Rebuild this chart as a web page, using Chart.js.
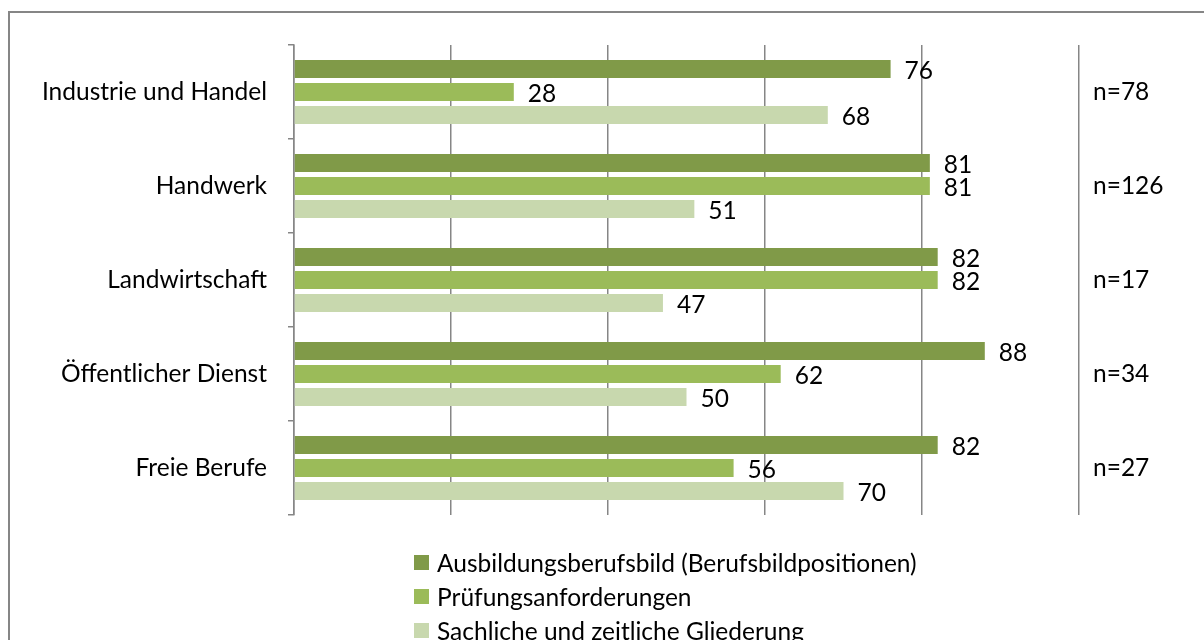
<!DOCTYPE html>
<html>
<head>
<meta charset="utf-8">
<script src="https://cdn.jsdelivr.net/npm/chart.js@4"></script>
<style>
    body { margin: 0; background: #fff; }
    #wrap { position: relative; width: 1204px; height: 640px; overflow: hidden; }
    #frame { position: absolute; left: 8px; top: 11px; right: -10px; bottom: -10px;
             border-left: 2px solid #868686; border-top: 2px solid #868686; }
    #legend { position: absolute; left: 414px; top: 545px; font-family: Lato, sans-serif;
              font-size: 24.5px; color: #000; }
    #legend div { display: flex; align-items: center; height: 34px; }
    #legend span.box { display: inline-block; width: 15px; height: 15px; margin-right: 8px; }
</style>
</head>
<body>
<div id="wrap">
    <div id="frame"></div>
    <canvas id="chart" width="1204" height="640"></canvas>
    <div id="legend"></div>
</div>
<script>
// --- data ---
const categories = ['Industrie und Handel', 'Handwerk', 'Landwirtschaft', 'Öffentlicher Dienst', 'Freie Berufe'];
const seriesNames = ['Ausbildungsberufsbild (Berufsbildpositionen)', 'Prüfungsanforderungen', 'Sachliche und zeitliche Gliederung'];
const berufsbild = [76, 81, 82, 88, 82];
const pruefung = [28, 81, 82, 62, 56];
const gliederung = [68, 51, 47, 50, 70];
const sampleSizes = ['n=78', 'n=126', 'n=17', 'n=34', 'n=27'];
const seriesColors = ['#809a48', '#9bbb59', '#c8d8ae'];

const FONT = 'Lato, sans-serif';
const FONT_SIZE = 24.5;

// value labels at the end of each bar, plus the n= column on the right
const labelPlugin = {
    id: 'labels',
    afterDatasetsDraw(chart) {
        const ctx = chart.ctx;
        ctx.save();
        ctx.font = FONT_SIZE + 'px ' + FONT;
        ctx.fillStyle = '#000';
        ctx.textBaseline = 'middle';
        ctx.textAlign = 'left';
        chart.data.datasets.forEach((ds, i) => {
            chart.getDatasetMeta(i).data.forEach((bar, j) => {
                ctx.fillText(ds.data[j], bar.x + 14, bar.y + 2);
            });
        });
        const y = chart.scales.y;
        const right = chart.chartArea.right;
        sampleSizes.forEach((txt, j) => {
            ctx.fillText(txt, right + 14, y.getPixelForValue(j));
        });
        ctx.restore();
    }
};

const datasets = [berufsbild, pruefung, gliederung].map((vals, i) => ({
    label: seriesNames[i],
    data: vals,
    backgroundColor: seriesColors[i],
    categoryPercentage: 0.734,
    barPercentage: 0.78
}));

new Chart(document.getElementById('chart'), {
    type: 'bar',
    data: { labels: categories, datasets: datasets },
    options: {
        indexAxis: 'y',
        responsive: false,
        animation: false,
        layout: { padding: { left: 0, right: 125, top: 45, bottom: 125 } },
        plugins: {
            legend: { display: false },
            tooltip: { enabled: false }
        },
        scales: {
            x: {
                min: 0,
                max: 100,
                ticks: { display: false, stepSize: 20 },
                grid: { color: '#868686', lineWidth: 1.5, drawTicks: false },
                border: { display: false }
            },
            y: {
                ticks: { font: { family: FONT, size: FONT_SIZE }, color: '#000', padding: 21 },
                grid: { drawOnChartArea: false, tickLength: 6, color: '#868686', lineWidth: 1.5 },
                border: { color: '#868686', width: 1.5 },
                afterFit(scale) { scale.width = 294; }
            }
        }
    },
    plugins: [labelPlugin]
});

// legend as a plain column, left aligned like the original
const legendEl = document.getElementById('legend');
seriesNames.forEach((name, i) => {
    const row = document.createElement('div');
    row.innerHTML = `<span class="box" style="background:${seriesColors[i]}"></span>${name}`;
    legendEl.appendChild(row);
});
</script>
</body>
</html>
